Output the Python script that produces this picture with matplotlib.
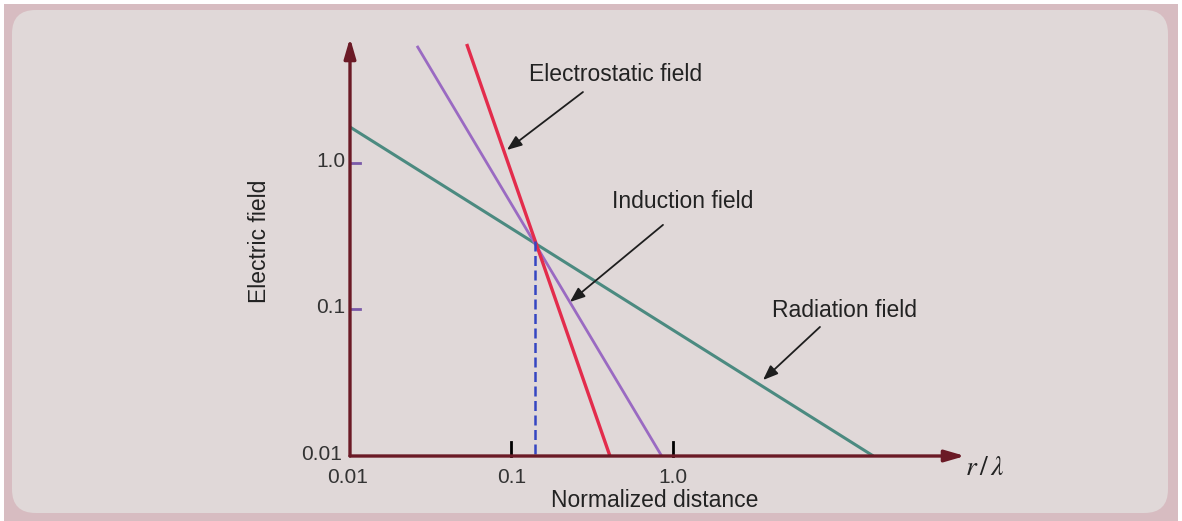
import matplotlib
matplotlib.use('Agg')
import matplotlib.pyplot as plt
from matplotlib.patches import FancyBboxPatch, Rectangle

plt.rcParams['font.family'] = ['Liberation Sans', 'DejaVu Sans']

# lines on log-log axes: (x start, x end), (y start, y end)
rad_x = [0.01, 17.4]
rad_y = [1.76, 0.01]
stat_x = [0.0528, 0.407]
stat_y = [6.49, 0.01]
ind_x = [0.026, 0.851]
ind_y = [6.30, 0.01]
cross_x = 0.1398
cross_y = 0.2935

xticks = [0.1, 1.0]
yticks = [0.1, 1.0]

axis_col = '#6b1a26'
txt_col = '#222222'

fig = plt.figure(figsize=(11.82, 5.21), dpi=100)
fig.patch.set_facecolor('white')
# pink frame and inner panel
fig.patches.append(Rectangle((4/1182, 0/521), 1174/1182, 517/521, transform=fig.transFigure,
                             facecolor='#d7bcc1', edgecolor='none', zorder=-2))
fig.patches.append(FancyBboxPatch((12/1182, 8/521), 1156/1182, 503/521,
                                  boxstyle='round,pad=0,rounding_size=0.02',
                                  transform=fig.transFigure, facecolor='#e0d8d8',
                                  edgecolor='none', zorder=-1, mutation_aspect=2.27))

ax = fig.add_axes([350/1182, 65/521, 615/1182, 418/521])
ax.set_zorder(1)
ax.set_xscale('log')
ax.set_yscale('log')
xmax = 64.3
ymax = 7.13
ax.set_xlim(0.01, xmax)
ax.set_ylim(0.01, ymax)
ax.patch.set_alpha(0)
for s in ax.spines.values():
    s.set_visible(False)
ax.set_xticks([])
ax.set_yticks([])
ax.minorticks_off()

ax.plot(rad_x, rad_y, color='#4b8a80', lw=2.2, solid_capstyle='butt')
ax.plot(ind_x, ind_y, color='#9a6ac2', lw=2.0, solid_capstyle='butt')
ax.plot(stat_x, stat_y, color='#e32c4c', lw=2.4, solid_capstyle='butt')
ax.plot([cross_x, cross_x], [cross_y, 0.01], color='#3546c2', lw=1.8, ls=(0, (4, 1.8)))

# axes with arrows
ax.annotate('', xy=(xmax, 0.01), xytext=(0.01, 0.01), annotation_clip=False,
            arrowprops=dict(arrowstyle='-|>,head_length=1.2,head_width=0.35',
                            color=axis_col, lw=2.4, shrinkA=0, shrinkB=0))
ax.annotate('', xy=(0.01, ymax), xytext=(0.01, 0.01), annotation_clip=False,
            arrowprops=dict(arrowstyle='-|>,head_length=1.2,head_width=0.35',
                            color=axis_col, lw=2.4, shrinkA=0, shrinkB=0))

# tick marks
for t in xticks:
    ax.plot([t, t], [0.01, 0.0125], color='black', lw=2, clip_on=False)
for t in yticks:
    ax.plot([0.01, 0.0115], [t, t], color='#7a5aa8', lw=2, clip_on=False)

tk = dict(fontsize=15, color='#333333')
ax.text(0.0089, 0.0103, '0.01', ha='right', va='center', **tk)
for t in yticks:
    ax.text(0.0094, t * 1.03, '%.1f' % t, ha='right', va='center', **tk)
ax.text(0.0096, 0.0071, '0.01', ha='center', va='center', **tk)
for t in xticks:
    ax.text(t, 0.0071, '%.1f' % t, ha='center', va='center', **tk)

ax.text(0.00277, 0.29, 'Electric field', rotation=90, ha='center', va='center',
        fontsize=16.5, color=txt_col)
ax.text(0.774, 0.00495, 'Normalized distance', ha='center', va='center',
        fontsize=16.5, color=txt_col)
ax.text(0.01 * 10 ** (635 / 161.5), 0.0083, r'$r\,/\,\lambda$', ha='center', va='center',
        fontsize=20, color=txt_col, math_fontfamily='stix')

# annotations
arr = dict(arrowstyle='-|>,head_length=0.9,head_width=0.35', color='#1e1e1e', lw=1.3,
           shrinkA=0, shrinkB=0)
ax.text(0.438, 3.99, 'Electrostatic field', ha='center', va='center', fontsize=16.5, color=txt_col)
ax.annotate('', xy=(0.0937, 1.227), xytext=(0.277, 3.05), arrowprops=arr)
ax.text(1.153, 0.542, 'Induction field', ha='center', va='center', fontsize=16.5, color=txt_col)
ax.annotate('', xy=(0.230, 0.1125), xytext=(0.867, 0.378), arrowprops=arr)
ax.text(11.6, 0.0985, 'Radiation field', ha='center', va='center', fontsize=16.5, color=txt_col)
ax.annotate('', xy=(3.61, 0.033), xytext=(8.13, 0.076), arrowprops=arr)

fig.savefig('out.png', dpi=100)
